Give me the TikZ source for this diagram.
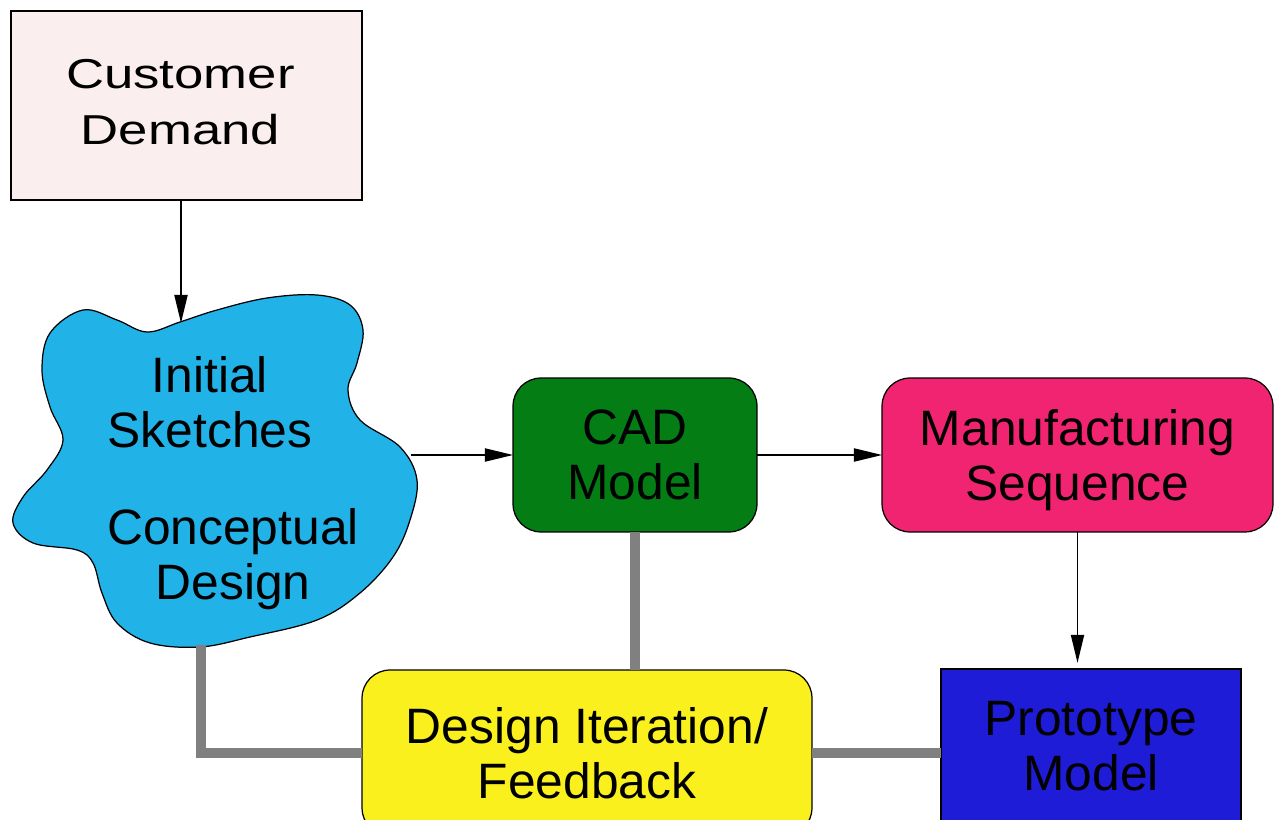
\documentclass[tikz,border=0pt]{standalone}
\usepackage{fontspec}
\setmainfont{Liberation Sans}
\usetikzlibrary{arrows.meta}

\definecolor{demandfill}{RGB}{251,238,238}
\definecolor{sketchfill}{RGB}{33,178,232}
\definecolor{cadfill}{RGB}{3,125,20}
\definecolor{mfgfill}{RGB}{240,36,112}
\definecolor{iterfill}{RGB}{250,240,30}
\definecolor{protofill}{RGB}{30,28,214}
\definecolor{loopgray}{RGB}{128,128,128}

\tikzset{
  boxtext/.style={font=\fontsize{28.3}{31.2}\selectfont, align=center, text=black, text depth=0pt},
  stage/.style={boxtext, draw=black, line width=0.7pt, inner sep=0pt, outer sep=0pt},
  roundstage/.style={stage, rounded corners=0.56cm},
  flow/.style={draw=black, line width=0.85pt, -{Triangle[length=16pt,width=7.5pt]}},
  feedback/.style={draw=loopgray, line width=5.7pt, line cap=butt, line join=miter}
}

\begin{document}
\begin{tikzpicture}[x=0.02cm, y=-0.02cm]
\useasboundingbox (0,0) rectangle (1274,820);
\clip (0,0) rectangle (1274,820);

% customer demand box
\node[stage, text depth=, fill=demandfill, minimum width=7.02cm, minimum height=3.78cm] (cd) at (186.5,105.5)
  {\fontsize{23.8}{31.7}\selectfont\scalebox{1.26}[1]{\begin{tabular}{@{}c@{}}Customer\\Demand\end{tabular}}\hspace*{0.24cm}};

% free-form sketch cloud
\draw[fill=sketchfill, draw=black, line width=0.7pt]
  plot[smooth cycle, tension=0.6] coordinates {
    (180,322) (217,310) (267,298) (317,295) (350,305) (363,330) (357,363)
    (348,390) (360,420) (400,447) (417,480) (410,520) (393,557) (360,593)
    (317,620) (250,637) (200,647) (150,643) (117,623) (102,593) (93,563)
    (77,550) (33,543) (13,523) (23,497) (47,470) (63,440) (50,407)
    (42,370) (50,333) (83,310) (117,320) (147,332)};
\coordinate (cloudtop) at (181,323);
\coordinate (cloudright) at (411,455);
\coordinate (cloudbottom) at (201,645);
\node[boxtext] (sketch) at (210,402) {Initial\\Sketches};
\node[boxtext] (concept) at (233,554) {Conceptual\\Design};

% process boxes
\node[roundstage, fill=cadfill, minimum width=4.88cm, minimum height=3.08cm] (cad) at (635,455) {CAD\\Model};
\node[roundstage, fill=mfgfill, minimum width=7.82cm, minimum height=3.08cm] (mfg) at (1077.5,455) {Manufacturing\\Sequence};
\node[roundstage, fill=iterfill, minimum width=9cm, minimum height=3.32cm] (iter) at (587,753) {Design Iteration/\\Feedback};
\node[stage, fill=protofill, minimum width=6cm, minimum height=3.08cm] (proto) at (1091,746) {Prototype\\Model};

% forward flow
\draw[flow] (cd.south -| cloudtop) -- (cloudtop);
\draw[flow] (cloudright) -- (cad.west);
\draw[flow] (cad.east) -- (mfg.west);
\draw[flow, shorten >=3.5pt] (mfg.south) -- (mfg.south |- proto.north);

% feedback loop
\draw[feedback] (cloudbottom) |- (iter.west);
\draw[feedback] (cad.south) -- (cad.south |- iter.north);
\draw[feedback] (iter.east) -- (iter.east -| proto.west);
\end{tikzpicture}
\end{document}
